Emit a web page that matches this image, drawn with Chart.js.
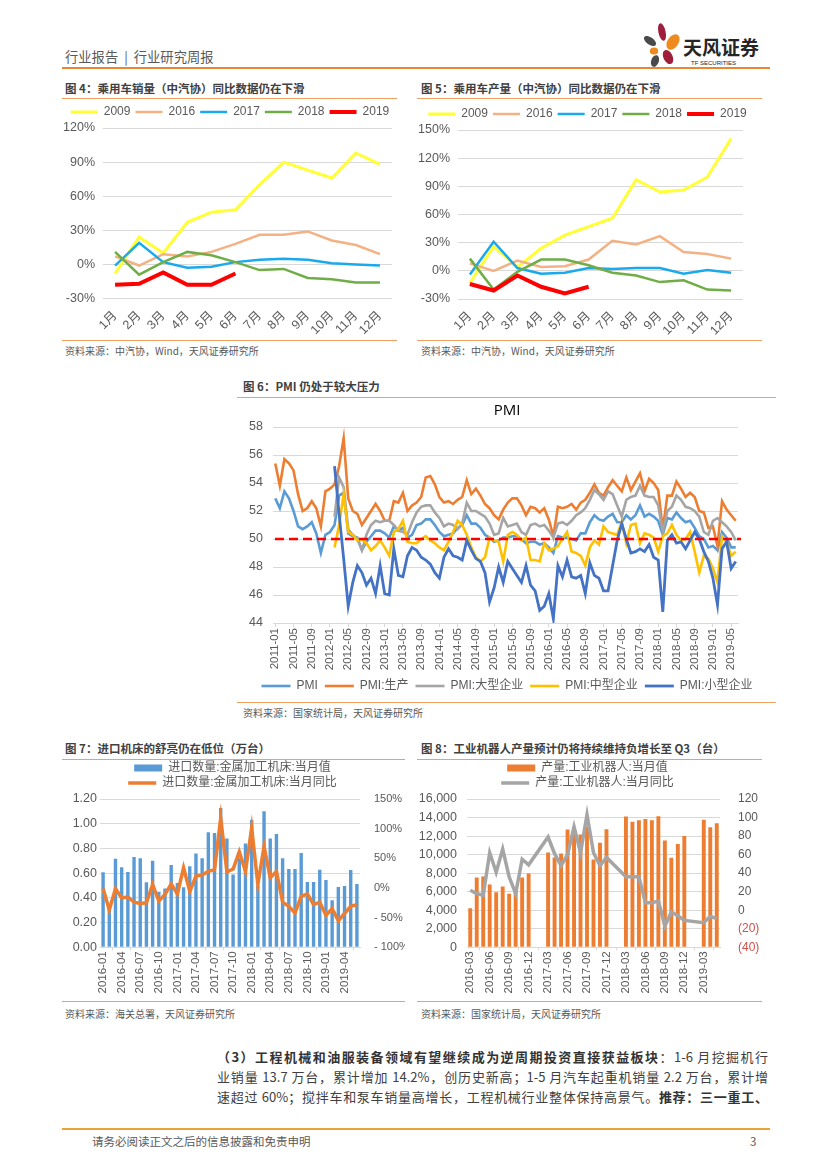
<!DOCTYPE html>
<html><head><meta charset="utf-8">
<script src="https://cdn.jsdelivr.net/npm/chart.js@4.4.0/dist/chart.umd.min.js"></script>
<style>
html,body{margin:0;padding:0}
body{width:827px;height:1169px;position:relative;background:#fff;font-family:'Noto Sans CJK SC',sans-serif;overflow:hidden}
.hl{position:absolute;height:1px;background:#EFA060}
.ftitle{position:absolute;font-size:11.5px;font-weight:bold;color:#404040;white-space:nowrap;line-height:14px}
.src{position:absolute;font-size:10px;color:#595959;white-space:nowrap;line-height:12px}
.pl{position:absolute;left:217px;width:551px;font-size:13px;line-height:18px;color:#404040;text-align:justify;text-align-last:justify;white-space:nowrap}
.pl b{color:#333}
</style></head>
<body>
<!-- header -->
<div style="position:absolute;left:65px;top:48px;font-size:13.3px;color:#595959;line-height:18px;white-space:nowrap;word-spacing:3px">行业报告 | 行业研究周报</div>
<svg style="position:absolute;left:636px;top:20px" width="140" height="48" viewBox="636 20 140 48">
  <ellipse cx="662" cy="32" rx="3.6" ry="9" fill="#9E1E3C" transform="rotate(-12 662 32)"/>
  <ellipse cx="673" cy="42" rx="5.5" ry="8.5" fill="#EE8A1E" transform="rotate(35 673 42)"/>
  <ellipse cx="650" cy="41" rx="3.6" ry="7" fill="#4A4A4A" transform="rotate(-55 650 41)"/>
  <ellipse cx="654" cy="51" rx="4.2" ry="3.6" fill="#EE8A1E"/>
  <ellipse cx="668" cy="57" rx="4.6" ry="7.5" fill="#9E1E3C" transform="rotate(-25 668 57)"/>
  <ellipse cx="655" cy="61" rx="3.8" ry="6" fill="#4A4A4A" transform="rotate(20 655 61)"/>
  <text x="683" y="55" font-family="Noto Sans CJK SC" font-weight="bold" font-size="19" fill="#262626">天风证券</text>
  <text x="691" y="65" font-family="Liberation Sans" font-size="6" fill="#262626">TF SECURITIES</text>
</svg>
<div style="position:absolute;left:62px;top:67px;width:708px;height:2px;background:#E8872F"></div>

<!-- figure titles & frames -->
<div class="ftitle" style="left:65px;top:81px">图 4：乘用车销量（中汽协）同比数据仍在下滑</div>
<div class="ftitle" style="left:421px;top:81px">图 5：乘用车产量（中汽协）同比数据仍在下滑</div>
<div class="hl" style="left:62px;top:98px;width:335px"></div>
<div class="hl" style="left:417px;top:98px;width:345px"></div>
<div class="hl" style="left:62px;top:340px;width:335px"></div>
<div class="hl" style="left:417px;top:340px;width:345px"></div>
<div class="src" style="left:65px;top:345px">资料来源：中汽协，Wind，天风证券研究所</div>
<div class="src" style="left:421px;top:345px">资料来源：中汽协，Wind，天风证券研究所</div>

<div class="ftitle" style="left:243px;top:379px">图 6：PMI 仍处于较大压力</div>
<div class="hl" style="left:237px;top:397px;width:539px"></div>
<div class="hl" style="left:237px;top:702px;width:539px"></div>
<div class="src" style="left:243px;top:707px">资料来源：国家统计局，天风证券研究所</div>

<div class="ftitle" style="left:65px;top:741px">图 7：进口机床的舒亮仍在低位（万台）</div>
<div class="ftitle" style="left:421px;top:741px">图 8：工业机器人产量预计仍将持续维持负增长至 Q3（台）</div>
<div class="hl" style="left:62px;top:759px;width:343px"></div>
<div class="hl" style="left:417px;top:759px;width:345px"></div>
<div class="hl" style="left:62px;top:1001px;width:343px"></div>
<div class="hl" style="left:417px;top:1001px;width:345px"></div>
<div class="src" style="left:65px;top:1008px">资料来源：海关总署，天风证券研究所</div>
<div class="src" style="left:421px;top:1008px">资料来源：国家统计局，天风证券研究所</div>

<!-- paragraph -->
<div class="pl" style="top:1048px"><b>（3）工程机械和油服装备领域有望继续成为逆周期投资直接获益板块</b>：1-6 月挖掘机行</div>
<div class="pl" style="top:1068px">业销量 13.7 万台，累计增加 14.2%，创历史新高；1-5 月汽车起重机销量 2.2 万台，累计增</div>
<div class="pl" style="top:1088px">速超过 60%；搅拌车和泵车销量高增长，工程机械行业整体保持高景气。<b>推荐：三一重工、</b></div>

<div style="position:absolute;left:62px;top:1128px;width:708px;height:2px;background:#E9A23B"></div>
<div style="position:absolute;left:92px;top:1134px;font-size:11.5px;color:#595959;white-space:nowrap;line-height:15px">请务必阅读正文之后的信息披露和免责申明</div>
<div style="position:absolute;left:750px;top:1134px;font-size:11.5px;color:#595959;line-height:15px">3</div>

<script>
// ---------- Figure 4: passenger car sales YoY (%) ----------
const months = ['1月','2月','3月','4月','5月','6月','7月','8月','9月','10月','11月','12月'];
const yearNames = ['2009','2016','2017','2018','2019'];
const sales2009 = [-8, 24, 10, 37, 46, 48, 70, 90, 83, 76, 98, 88];
const sales2016 = [7, -1, 9, 7, 11, 18, 26, 26, 29, 21, 17, 9];
const sales2017 = [-1, 19, 2, -3, -2, 2, 4, 5, 4, 1, 0, -1];
const sales2018 = [11, -9, 2, 11, 8, 2, -5, -4, -12, -13, -16, -16];
const sales2019 = [-18, -17, -7, -18, -18, -8];
const salesTicks = {min: -30, max: 120, step: 30};

// ---------- Figure 5: passenger car production YoY (%) ----------
const prod2009 = [-13, 26, 4, 24, 38, 47, 56, 97, 84, 86, 100, 141];
const prod2016 = [8, 0, 11, 4, 5, 12, 32, 28, 37, 20, 18, 13];
const prod2017 = [-4, 31, 3, -3, -2, 3, 2, 3, 3, -3, 1, -2];
const prod2018 = [13, -20, -1, 12, 12, 6, -2, -5, -12, -10, -20, -21];
const prod2019 = [-14, -21, -5, -17, -24, -17];
const prodTicks = {min: -30, max: 150, step: 30};

// ---------- Figure 6: PMI ----------
const pmiNames = ['PMI','PMI:生产','PMI:大型企业','PMI:中型企业','PMI:小型企业'];
const pmiDates = [];
for (let y = 2011; y <= 2019; y++) for (let m = 1; m <= 12; m++) { if (y === 2019 && m > 6) break; pmiDates.push(y + '-' + String(m).padStart(2,'0')); }
const pmiTotal = [
  52.9,52.2,53.4,52.9,52.0,50.9,50.7,50.9,51.2,50.4,49.0,50.3,
  50.5,51.0,53.1,53.3,50.4,50.2,50.1,49.2,49.8,50.2,50.6,50.6,
  50.4,50.1,50.9,50.6,50.8,50.1,50.3,51.0,51.1,51.4,51.4,51.0,
  50.5,50.2,50.3,50.4,50.8,51.0,51.7,51.1,51.1,50.8,50.3,50.1,
  49.8,49.9,50.1,50.1,50.2,50.2,50.0,49.7,49.8,49.8,49.6,49.7,
  49.4,49.0,50.2,50.1,50.1,50.0,49.9,50.4,50.4,51.2,51.7,51.4,
  51.3,51.6,51.8,51.2,51.2,51.7,51.4,51.7,52.4,51.6,51.8,51.6,
  51.3,50.3,51.5,51.4,51.9,51.5,51.2,51.3,50.8,50.2,50.0,49.4,
  49.5,49.2,50.5,50.1,49.4,49.4];
const pmiProduction = [
  55.4,53.8,55.7,55.4,54.9,53.2,52.0,52.2,52.7,52.2,50.9,53.4,
  53.6,53.9,55.2,57.2,52.9,52.0,51.8,51.0,51.5,52.0,52.5,52.0,
  51.3,51.3,52.7,52.6,53.3,52.0,52.4,52.6,53.0,54.4,54.5,53.9,
  53.0,52.6,52.7,52.5,52.8,53.0,54.2,53.2,53.6,53.1,52.5,52.2,
  51.7,51.4,52.1,52.6,52.9,52.9,52.4,51.7,52.3,52.2,51.9,52.2,
  51.4,50.2,52.3,52.2,52.3,52.5,52.1,52.6,52.8,53.3,53.9,53.3,
  53.1,53.7,54.2,53.8,53.4,54.4,53.5,54.1,54.7,53.4,54.3,54.0,
  53.5,50.7,53.1,53.1,54.1,53.6,53.0,53.3,53.0,52.0,51.9,50.8,
  50.9,49.5,52.7,52.1,51.7,51.3];
const pmiLarge = [
  null,null,null,null,null,null,null,null,null,null,null,null,
  null,51.6,54.4,53.7,50.7,50.3,50.0,49.2,50.3,51.0,51.3,51.2,
  51.3,51.3,51.0,50.6,50.5,50.3,51.2,51.9,52.3,52.4,52.4,51.9,
  51.5,50.9,51.1,51.0,50.7,51.1,52.6,52.0,52.0,51.8,51.6,51.1,
  50.3,50.4,51.5,50.9,51.0,51.1,50.5,50.3,51.0,51.1,50.9,51.0,
  50.6,50.1,51.1,51.2,51.0,51.3,51.7,51.9,52.2,52.8,53.5,53.2,
  52.8,53.4,53.2,52.4,51.6,52.8,53.0,53.1,53.8,53.1,53.0,53.0,
  52.4,50.5,52.0,52.3,53.1,52.8,52.3,52.2,52.0,51.6,50.5,50.3,
  51.3,51.5,51.2,50.9,50.5,49.9];
const pmiMedium = [
  null,null,null,null,null,null,null,null,null,null,null,null,
  null,49.4,51.0,53.2,50.5,50.3,49.9,50.0,49.7,49.2,49.5,49.9,
  49.4,48.8,50.5,50.7,51.3,49.8,49.7,49.7,50.0,50.2,49.9,49.7,
  49.4,49.2,49.8,50.5,51.3,51.0,50.3,49.4,48.7,48.4,48.7,50.1,
  49.9,49.8,48.4,50.3,50.5,50.3,49.9,50.1,48.5,48.5,48.4,49.7,
  49.2,49.3,49.5,50.0,50.5,49.1,49.0,48.8,48.1,49.4,49.9,49.6,
  50.9,50.5,50.4,50.3,51.2,49.7,51.0,51.1,49.7,50.4,50.3,50.1,
  49.1,50.2,50.4,51.0,50.3,49.9,50.0,50.5,49.1,47.6,48.8,48.6,
  47.9,46.9,50.2,49.8,48.8,49.1];
const pmiSmall = [
  null,null,null,null,null,null,null,null,null,null,null,null,
  null,55.2,51.8,48.6,45.2,46.9,48.1,47.6,46.7,47.2,46.1,48.1,
  46.1,46.0,49.3,47.4,47.3,48.8,49.4,49.2,48.7,48.5,48.2,47.6,
  47.2,48.7,49.3,48.8,48.7,48.5,49.9,49.2,48.6,48.4,47.6,45.5,
  46.5,48.0,46.9,48.4,47.9,47.4,46.9,48.1,46.7,46.3,44.9,45.2,
  46.1,44.3,48.1,47.3,48.5,47.3,47.2,47.4,46.1,48.3,47.4,47.2,
  46.3,46.3,48.1,49.9,51.1,50.0,49.0,49.1,49.3,49.1,49.6,48.7,
  48.5,44.8,49.9,50.3,49.7,49.8,49.3,49.9,50.5,50.0,49.1,48.4,
  47.2,45.3,49.3,49.8,47.9,48.4];
const pmiThreshold = 50;
const pmiTicks = {min: 44, max: 58, step: 2};

// ---------- Figure 7: imported metal-working machine tools ----------
const toolNames = ['进口数量:金属加工机床:当月值','进口数量:金属加工机床:当月同比'];
const toolDates = [];
for (let y = 2016; y <= 2019; y++) for (let m = 1; m <= 12; m++) { if (y === 2019 && m > 6) break; toolDates.push(y + '-' + String(m).padStart(2,'0')); }
const toolQty = [0.607,0.33,0.717,0.647,0.61,0.73,0.72,0.526,0.70,0.45,0.475,0.666,
  0.52,0.485,0.655,0.76,0.72,0.93,0.925,1.127,0.88,0.59,0.72,0.84,
  1.03,0.50,1.10,0.88,0.917,0.72,0.634,0.634,0.763,0.528,0.528,0.628,
  0.545,0.38,0.488,0.496,0.626,0.512];
const toolYoY = [-1,-37,-1,-17,-15,-24,-26,-25,6,-22,-11,7,
  -10,34,-6,20,22,28,31,118,27,32,61,28,
  101,6,70,17,28,-24,-31,-42,-14,-10,-28,-24,
  -46,-35,-55,-43,-31,-28];

// ---------- Figure 8: industrial robot output ----------
const robotNames = ['产量:工业机器人:当月值','产量:工业机器人:当月同比'];
const robotDates = [];
for (let y = 2016; y <= 2019; y++) for (let m = 1; m <= 12; m++) { if ((y === 2016 && m < 3) || (y === 2019 && m > 5)) continue; robotDates.push(y + '-' + String(m).padStart(2,'0')); }
const robotQty = [4200,7530,7640,6770,5935,6550,5790,6100,7530,7960,
  null,null,10240,9700,10130,12700,12300,12160,13000,9480,11290,12740,
  null,null,14115,13540,13720,13830,13720,14150,11510,9660,11150,12020,
  null,null,13750,12960,13390];
const robotYoY = [21.5,18,16,62,41,66,36,18,55,49,
  null,null,79,61,48,60,90,62,103,62,48,57,
  null,null,36,36,36,8,8,10,-17,-2,-6,-11,
  null,null,-13.5,-6.5,-9];

// ---------- rendering ----------
Chart.defaults.font.family = "'Liberation Sans','Noto Sans CJK SC',sans-serif";
Chart.defaults.color = '#595959';
Chart.defaults.animation = false;

function box(left, top, w, h) {
  const d = document.createElement('div');
  d.style.cssText = `position:absolute;left:${left}px;top:${top}px;width:${w}px;height:${h}px`;
  const c = document.createElement('canvas');
  d.appendChild(c); document.body.appendChild(d);
  return c;
}
function line(label, data, color, width, order) {
  return {type:'line', label, data, borderColor:color, backgroundColor:color, borderWidth:width,
    pointRadius:0, pointHoverRadius:0, pointStyle:'line', tension:0, fill:false, order};
}
// empty right-hand axis used only as a fixed-width margin, so legends keep the full width
function spacer(w) {
  return {type:'linear', position:'right', display:true, grid:{display:false}, border:{display:false},
    ticks:{display:false}, afterFit: s => { s.width = w; }};
}
const gridY = {color:'#D9D9D9', drawTicks:false, lineWidth:1};
const legendSort = (a, b) => a.datasetIndex - b.datasetIndex;

const refLine = {
  id: 'refLine',
  afterDatasetsDraw(chart, args, opts) {
    if (opts.value == null) return;
    const y = chart.scales.y.getPixelForValue(opts.value);
    const {left, right} = chart.chartArea;
    const ctx = chart.ctx;
    ctx.save();
    ctx.setLineDash([9, 5]);
    ctx.strokeStyle = '#FF0000';
    ctx.lineWidth = 2.6;
    ctx.beginPath(); ctx.moveTo(left + 2, y); ctx.lineTo(right + 3, y); ctx.stroke();
    ctx.restore();
  }
};
// make the legend wrap into rows narrower than the chart (Excel-like stacked legend)
const legendWrap = {
  id: 'legendWrap',
  afterInit(chart, args, opts) {
    const lg = chart.legend;
    if (!lg || !opts.width) return;
    const orig = lg.update.bind(lg);
    lg.update = (mw, mh, margins) => orig(Math.min(mw, opts.width), mh, margins);
  }
};

function yoyChart(canvas, series, ticks, rightPad) {
  const colors = ['#FFFF33','#F4B183','#1BA9EE','#70AD47','#FF0000'];
  const widths = [3, 2.5, 2.5, 2.5, 4];
  new Chart(canvas, {
    type: 'line',
    data: {labels: months, datasets: series.map((s, i) => line(yearNames[i], s, colors[i], widths[i], 10 - i))},
    options: {
      responsive: true, maintainAspectRatio: false,
      layout: {padding: 0},
      plugins: {
        legend: {position: 'top', labels: {usePointStyle: true, pointStyleWidth: 27, boxHeight: 12, padding: 5,
          font: {size: 12}, color: '#595959', sort: legendSort}},
        tooltip: {enabled: false}
      },
      scales: {
        x: {offset: true, grid: {display: false}, border: {display: false},
          ticks: {minRotation: 45, maxRotation: 45, autoSkip: false, font: {size: 12.5}, color: '#595959', padding: 2},
          afterFit: s => { s.height = 41.5; }},
        y: {min: ticks.min, max: ticks.max, grid: gridY, border: {display: false},
          ticks: {stepSize: ticks.step, callback: v => v + '%', font: {size: 12.5}, color: '#595959', padding: 8},
          afterFit: s => { s.width = 43; }},
        yR: spacer(rightPad)
      }
    }
  });
}
yoyChart(box(60, 101, 340, 239), [sales2009, sales2016, sales2017, sales2018, sales2019], salesTicks, 8);
yoyChart(box(415, 102.5, 345, 237.5), [prod2009, prod2016, prod2017, prod2018, prod2019], prodTicks, 17);

// Figure 6
(function(){
  const series = [pmiTotal, pmiProduction, pmiLarge, pmiMedium, pmiSmall];
  const colors = ['#5B9BD5','#ED7D31','#A5A5A5','#FFC000','#4472C4'];
  const widths = [2.6, 2.6, 2.6, 2.6, 2.8];
  new Chart(box(237, 397, 540, 305), {
    type: 'line',
    data: {labels: pmiDates, datasets: series.map((s, i) => line(pmiNames[i], s, colors[i], widths[i], 10 - i))},
    plugins: [refLine],
    options: {
      responsive: true, maintainAspectRatio: false,
      layout: {padding: 0},
      plugins: {
        title: {display: true, text: 'PMI', color: '#000', font: {size: 15, family: "'Open Sans','Liberation Sans',sans-serif", weight: 'normal'}, padding: {top: 5, bottom: 7}},
        legend: {position: 'bottom', labels: {usePointStyle: true, pointStyleWidth: 29, boxHeight: 12, padding: 7,
          font: {size: 12}, color: '#595959', sort: legendSort}},
        tooltip: {enabled: false},
        refLine: {value: pmiThreshold}
      },
      scales: {
        x: {offset: true, grid: {display: true, drawOnChartArea: false, color: '#D9D9D9', tickLength: 4}, border: {display: true, color: '#D9D9D9'},
          ticks: {minRotation: 90, maxRotation: 90, autoSkip: false, font: {size: 11.5}, color: '#595959', padding: 1,
            callback: function(v, i) { return i % 4 === 0 ? this.getLabelForValue(v) : null; }},
          afterFit: s => { s.height = 50; }},
        y: {min: pmiTicks.min, max: pmiTicks.max, grid: gridY, border: {display: false},
          ticks: {stepSize: pmiTicks.step, font: {size: 12.5}, color: '#595959', padding: 10},
          afterFit: s => { s.width = 36; }},
        yR: spacer(39)
      }
    }
  });
})();

// Figure 7
new Chart(box(60, 759, 345, 242), {
  type: 'bar',
  data: {labels: toolDates, datasets: [
    {type: 'bar', label: toolNames[0], data: toolQty, backgroundColor: '#5B9BD5', borderWidth: 0, pointStyle: 'rect', yAxisID: 'y', order: 2, barPercentage: 0.55, categoryPercentage: 1},
    Object.assign(line(toolNames[1], toolYoY, '#ED7D31', 3.5, 1), {yAxisID: 'y1'})
  ]},
  plugins: [legendWrap],
  options: {
    responsive: true, maintainAspectRatio: false,
    layout: {padding: 0},
    plugins: {
      legend: {position: 'top', labels: {usePointStyle: true, pointStyleWidth: 28, boxHeight: 7, padding: 3,
        font: {size: 12}, color: '#595959', sort: legendSort}},
      legendWrap: {width: 240},
      tooltip: {enabled: false}
    },
    scales: {
      x: {grid: {display: true, drawOnChartArea: false, color: '#D9D9D9', tickLength: 3}, border: {display: true, color: '#D9D9D9'},
        ticks: {minRotation: 90, maxRotation: 90, autoSkip: false, font: {size: 11.5}, color: '#595959', padding: 1,
          callback: function(v, i) { return i % 3 === 0 ? this.getLabelForValue(v) : null; }},
        afterFit: s => { s.height = 53.7; }},
      y: {position: 'left', min: 0, max: 1.2, grid: gridY, border: {display: false},
        ticks: {stepSize: 0.2, callback: v => v.toFixed(2), font: {size: 12.5}, color: '#595959', padding: 3},
        afterFit: s => { s.width = 40; }},
      y1: {position: 'right', min: -100, max: 150, grid: {display: false}, border: {display: false},
        ticks: {stepSize: 50, callback: v => (v < 0 ? '- ' + Math.abs(v) : v) + '%', font: {size: 11}, color: '#595959', padding: 6},
        afterFit: s => { s.width = 45; }}
    }
  }
});

// Figure 8
new Chart(box(415, 759, 345, 242), {
  type: 'bar',
  data: {labels: robotDates, datasets: [
    {type: 'bar', label: robotNames[0], data: robotQty, backgroundColor: '#ED7D31', borderWidth: 0, pointStyle: 'rect', yAxisID: 'y', order: 2, barPercentage: 0.6, categoryPercentage: 1},
    Object.assign(line(robotNames[1], robotYoY, '#A5A5A5', 3.5, 1), {yAxisID: 'y1', spanGaps: true})
  ]},
  plugins: [legendWrap],
  options: {
    responsive: true, maintainAspectRatio: false,
    layout: {padding: 0},
    plugins: {
      legend: {position: 'top', labels: {usePointStyle: true, pointStyleWidth: 28, boxHeight: 7, padding: 3,
        font: {size: 12}, color: '#595959', sort: legendSort}},
      legendWrap: {width: 230},
      tooltip: {enabled: false}
    },
    scales: {
      x: {grid: {display: true, drawOnChartArea: false, color: '#D9D9D9', tickLength: 3}, border: {display: true, color: '#D9D9D9'},
        ticks: {minRotation: 90, maxRotation: 90, autoSkip: false, font: {size: 11.5}, color: '#595959', padding: 1,
          callback: function(v, i) { return i % 3 === 0 ? this.getLabelForValue(v) : null; }},
        afterFit: s => { s.height = 53.7; }},
      y: {position: 'left', min: 0, max: 16000, grid: gridY, border: {display: false},
        ticks: {stepSize: 2000, callback: v => v.toLocaleString('en-US'), font: {size: 12.5}, color: '#595959', padding: 10},
        afterFit: s => { s.width = 52; }},
      y1: {position: 'right', min: -40, max: 120, grid: {display: false}, border: {display: false},
        ticks: {stepSize: 20, callback: v => v < 0 ? '(' + Math.abs(v) + ')' : String(v), font: {size: 12},
          color: c => (c.tick && c.tick.value < 0) ? '#D0504A' : '#595959', padding: 10},
        afterFit: s => { s.width = 40; }}
    }
  }
});
</script>
</body></html>
